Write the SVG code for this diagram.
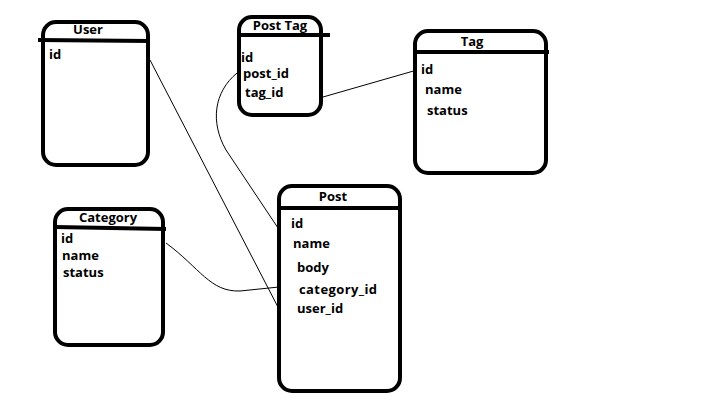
<svg xmlns="http://www.w3.org/2000/svg" width="705" height="400" viewBox="0 0 705 400">
  <style>
    .box { fill: #fff; stroke: #000; stroke-width: 4; }
    .hdr { stroke: #000; stroke-width: 4; fill: none; }
    .t { font-family: "Open Sans", "Noto Sans", sans-serif; font-weight: bold; font-size: 13px; fill: #000; }
    .title { text-anchor: middle; }
    .link { stroke: #000; stroke-width: 1; fill: none; }
  </style>
  <rect width="705" height="400" fill="#fff"/>

  <g id="connectors">
    <path class="link" d="M150,60 L280,311"/>
    <path class="link" d="M237,73 C214,92 210,122 226,150 L278,228"/>
    <path class="link" d="M166,243 C200,268 210,292 240,291 L279,287"/>
    <path class="link" d="M323,97 L417,70"/>
  </g>

  <g id="user">
    <rect class="box" x="43" y="22" width="105" height="143" rx="13"/>
    <path class="hdr" d="M38,40 L150,41"/>
    <text class="t title" x="88" y="34">User</text>
    <text class="t" x="49" y="59">id</text>
  </g>

  <g id="post-tag">
    <rect class="box" x="239" y="17" width="82" height="98" rx="13"/>
    <path class="hdr" d="M239,35 L330,35"/>
    <text class="t title" x="280" y="30">Post Tag</text>
    <text class="t" x="241" y="62">id</text>
    <text class="t" x="243" y="78">post_id</text>
    <text class="t" x="245" y="97">tag_id</text>
  </g>

  <g id="tag">
    <rect class="box" x="415" y="31" width="131" height="142" rx="13"/>
    <path class="hdr" d="M415,52 L549,52"/>
    <text class="t title" x="472" y="46">Tag</text>
    <text class="t" x="421" y="74">id</text>
    <text class="t" x="425" y="94">name</text>
    <text class="t" x="427" y="115">status</text>
  </g>

  <g id="category">
    <rect class="box" x="55" y="209" width="108" height="136" rx="13"/>
    <path class="hdr" d="M55,227 L166,229"/>
    <text class="t title" x="108" y="222">Category</text>
    <text class="t" x="61" y="243">id</text>
    <text class="t" x="62" y="260">name</text>
    <text class="t" x="63" y="277">status</text>
  </g>

  <g id="post">
    <rect class="box" x="279" y="186" width="121" height="205" rx="13"/>
    <path class="hdr" d="M279,208 L400,208"/>
    <text class="t title" x="333" y="201">Post</text>
    <text class="t" x="291" y="228">id</text>
    <text class="t" x="293" y="248">name</text>
    <text class="t" x="297" y="272">body</text>
    <text class="t" x="299" y="294" letter-spacing="0.4">category_id</text>
    <text class="t" x="297" y="313">user_id</text>
  </g>
</svg>
